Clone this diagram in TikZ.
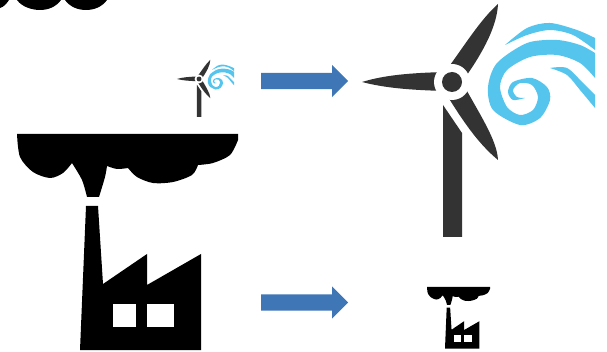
\documentclass[tikz,border=0pt]{standalone}
\usetikzlibrary{shapes.arrows}
\definecolor{towergray}{HTML}{333333}
\definecolor{windblue}{HTML}{55C5EE}
\definecolor{arrowblue}{HTML}{3F76B5}
\tikzset{
  bluearrow/.style={single arrow,fill=arrowblue,draw=none,inner xsep=0pt,inner ysep=8pt,minimum height=87pt,minimum width=32pt,
    single arrow head extend=8pt,single arrow head indent=0pt,shape border rotate=0,anchor=tail},
  turbine/.pic={
    \fill[towergray] (362,82) .. controls (385,75) and (410,73) .. (445,72) -- (445,91) .. controls (410,90) and (385,88) .. (362,82) -- cycle;
    \fill[towergray] (498,4) .. controls (497,25) and (485,50) .. (462,82) -- (445,72) .. controls (465,45) and (480,20) .. (498,4) -- cycle;
    \fill[towergray] (498,160) .. controls (480,145) and (465,125) .. (445,92) -- (462,82) .. controls (480,115) and (497,140) .. (498,160) -- cycle;
    \fill[white] (452,82) circle (18);
    \fill[towergray] (452,82) circle (10);
    \fill[towergray] (443,105) -- (462,133) -- (462,237) -- (443,237) -- cycle;
    % wind
    \fill[windblue] plot[smooth] coordinates {(595,53) (580,45) (557,40) (527,43) (497,63) (488,87) (493,110) (520,125) (540,118) (550,100) (547,87) (532,78) (513,82) (508,92) (513,100) (525,98)}
      -- plot[smooth] coordinates {(525,98) (517,97) (513,90) (520,83) (532,85) (538,97) (533,110) (520,115) (507,107) (500,87) (507,70) (530,57) (557,55) (580,63) (595,78)} -- cycle;
    \fill[windblue] plot[smooth] coordinates {(505,45) (527,28) (550,23) (577,30) (595,38)}
      -- plot[smooth] coordinates {(595,50) (573,35) (550,30) (527,35) (505,45)} -- cycle;
    \fill[windblue] plot[smooth] coordinates {(550,68) (567,68) (583,83) (595,95)}
      -- plot[smooth] coordinates {(595,108) (580,90) (567,75) (550,68)} -- cycle;
  },
  factory/.pic={
    \fill[black] (17,134) -- (238,134) -- plot[smooth] coordinates {(238,140) (230,155) (213,163) (198,165)}
      -- plot[smooth] coordinates {(198,165) (192,175) (173,182) (153,183) (137,177) (128,168)}
      -- plot[smooth] coordinates {(128,168) (117,169) (107,166)}
      -- plot[smooth] coordinates {(107,166) (105,177) (99,197)} -- (87,197)
      -- plot[smooth] coordinates {(87,197) (82,180) (72,163)}
      -- plot[smooth] coordinates {(72,163) (63,173) (50,178) (33,172) (20,157) (17,134)} -- cycle;
    \fill[black] (80,350) -- (86,206) -- (98,206) -- (103,284) -- (147,254) -- (147,285) -- (201,254) -- (201,350) -- cycle;
    \fill[white] (113,304) rectangle (136,327);
    \fill[white] (147,304) rectangle (174,327);
  },
}
\begin{document}
\begin{tikzpicture}[x=1pt,y=-1pt]
\useasboundingbox (0,0) rectangle (607,352);
% cut off heading
\fill[black] (0,0) -- (9,0) .. controls (7,3) and (4,7) .. (0,8) -- cycle;
\fill[black] (17,0) .. controls (22,7) and (32,10) .. (40,10) .. controls (48,10) and (56,7) .. (61,0) -- cycle;
\fill[black] (65,0) .. controls (70,7) and (78,10) .. (86,10) .. controls (94,10) and (102,7) .. (107,0) -- cycle;
\pic (smallturbine) [shift={(88.3,58.9)},scale=.245] {turbine};
\pic (bigturbine) {turbine};
\pic (bigfactory) {factory};
\pic (smallfactory) [shift={(422.2,248.8)},scale=.285] {factory};
\node[bluearrow] (toparrow) at (261,81) {};
\node[bluearrow] (bottomarrow) at (261,302.5) {};
\end{tikzpicture}
\end{document}
